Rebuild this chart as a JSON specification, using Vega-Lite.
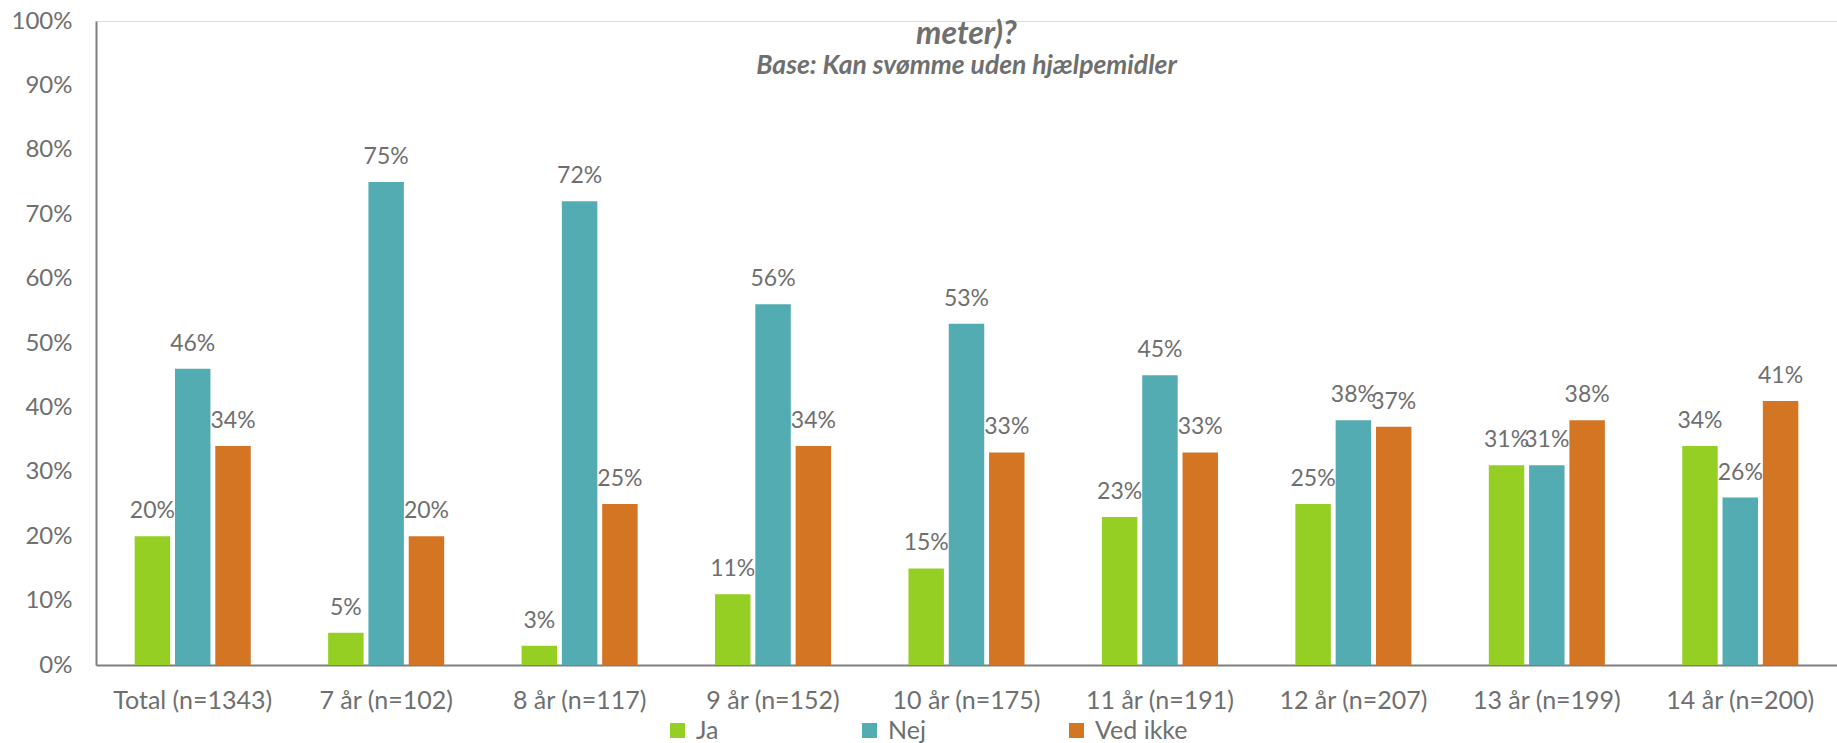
{
  "$schema": "https://vega.github.io/schema/vega-lite/v6.json",
  "width": 1741,
  "height": 644,
  "autosize": {"type": "none"},
  "padding": {"left": 96, "top": 21, "right": 0, "bottom": 78},
  "background": "white",
  "title": {
    "text": "meter)?",
    "subtitle": "Base: Kan svømme uden hjælpemidler",
    "anchor": "middle",
    "frame": "group",
    "offset": -71,
    "font": "Lato",
    "fontSize": 32,
    "fontWeight": "bold",
    "fontStyle": "italic",
    "color": "#6f6f6f",
    "subtitleFont": "Lato",
    "subtitleFontSize": 26.5,
    "subtitleFontWeight": "bold",
    "subtitleFontStyle": "italic",
    "subtitleColor": "#6f6f6f",
    "subtitlePadding": 2
  },
  "data": {
    "values": [
      {"group": "Total (n=1343)", "svar": "Ja", "pct": 0.20},
      {"group": "Total (n=1343)", "svar": "Nej", "pct": 0.46},
      {"group": "Total (n=1343)", "svar": "Ved ikke", "pct": 0.34},
      {"group": "7 år (n=102)", "svar": "Ja", "pct": 0.05},
      {"group": "7 år (n=102)", "svar": "Nej", "pct": 0.75},
      {"group": "7 år (n=102)", "svar": "Ved ikke", "pct": 0.20},
      {"group": "8 år (n=117)", "svar": "Ja", "pct": 0.03},
      {"group": "8 år (n=117)", "svar": "Nej", "pct": 0.72},
      {"group": "8 år (n=117)", "svar": "Ved ikke", "pct": 0.25},
      {"group": "9 år (n=152)", "svar": "Ja", "pct": 0.11},
      {"group": "9 år (n=152)", "svar": "Nej", "pct": 0.56},
      {"group": "9 år (n=152)", "svar": "Ved ikke", "pct": 0.34},
      {"group": "10 år (n=175)", "svar": "Ja", "pct": 0.15},
      {"group": "10 år (n=175)", "svar": "Nej", "pct": 0.53},
      {"group": "10 år (n=175)", "svar": "Ved ikke", "pct": 0.33},
      {"group": "11 år (n=191)", "svar": "Ja", "pct": 0.23},
      {"group": "11 år (n=191)", "svar": "Nej", "pct": 0.45},
      {"group": "11 år (n=191)", "svar": "Ved ikke", "pct": 0.33},
      {"group": "12 år (n=207)", "svar": "Ja", "pct": 0.25},
      {"group": "12 år (n=207)", "svar": "Nej", "pct": 0.38},
      {"group": "12 år (n=207)", "svar": "Ved ikke", "pct": 0.37},
      {"group": "13 år (n=199)", "svar": "Ja", "pct": 0.31},
      {"group": "13 år (n=199)", "svar": "Nej", "pct": 0.31},
      {"group": "13 år (n=199)", "svar": "Ved ikke", "pct": 0.38},
      {"group": "14 år (n=200)", "svar": "Ja", "pct": 0.34},
      {"group": "14 år (n=200)", "svar": "Nej", "pct": 0.26},
      {"group": "14 år (n=200)", "svar": "Ved ikke", "pct": 0.41}
    ]
  },
  "encoding": {
    "x": {
      "field": "group",
      "type": "nominal",
      "sort": null,
      "scale": {"paddingInner": 0.4, "paddingOuter": 0.2},
      "axis": {
        "title": null,
        "labelAngle": 0,
        "labelFont": "Lato",
        "labelFontSize": 25,
        "labelColor": "#6f6f6f",
        "labelPadding": 23,
        "labelLimit": 300,
        "ticks": false,
        "domainColor": "#7f7f7f",
        "domainWidth": 2
      }
    },
    "xOffset": {
      "field": "svar",
      "type": "nominal",
      "sort": ["Ja", "Nej", "Ved ikke"],
      "scale": {"paddingInner": 0.12, "paddingOuter": 0}
    },
    "y": {
      "field": "pct",
      "type": "quantitative",
      "scale": {"domain": [0, 1], "nice": false},
      "axis": {
        "title": null,
        "values": [0, 0.1, 0.2, 0.3, 0.4, 0.5, 0.6, 0.7, 0.8, 0.9, 1],
        "format": ".0%",
        "grid": false,
        "ticks": false,
        "labelFont": "Lato",
        "labelFontSize": 24,
        "labelColor": "#6f6f6f",
        "labelPadding": 24,
        "domainColor": "#7f7f7f",
        "domainWidth": 2
      }
    }
  },
  "layer": [
    {
      "mark": {"type": "bar"},
      "encoding": {
        "color": {
          "field": "svar",
          "type": "nominal",
          "sort": ["Ja", "Nej", "Ved ikke"],
          "scale": {"domain": ["Ja", "Nej", "Ved ikke"], "range": ["#95cf24", "#53acb1", "#d47524"]},
          "legend": {
            "title": null,
            "orient": "none",
            "legendX": 569,
            "legendY": 697,
            "direction": "horizontal",
            "columns": 3,
            "gridAlign": "none",
            "columnPadding": 138,
            "symbolType": "square",
            "symbolSize": 225,
            "symbolStrokeWidth": 0,
            "labelFont": "Lato",
            "labelFontSize": 25,
            "labelColor": "#6f6f6f",
            "labelOffset": 6,
            "labelLimit": 300
          }
        }
      }
    },
    {
      "mark": {"type": "text", "baseline": "alphabetic", "dy": -18, "font": "Lato", "fontSize": 23, "color": "#6f6f6f"},
      "encoding": {
        "text": {"field": "pct", "type": "quantitative", "format": ".0%"}
      }
    }
  ]
}
